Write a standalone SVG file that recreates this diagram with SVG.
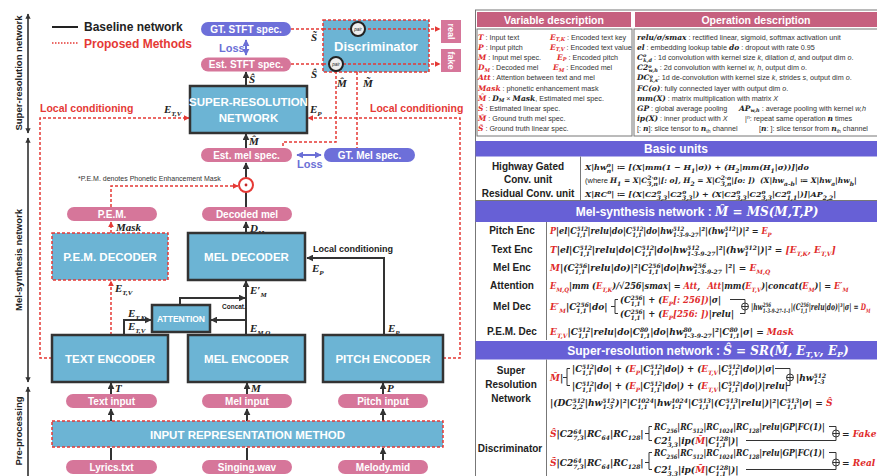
<svg xmlns="http://www.w3.org/2000/svg" width="877" height="476" viewBox="0 0 877 476">
<defs>
<marker id="ab" viewBox="0 0 10 10" refX="9" refY="5" markerWidth="3.5" markerHeight="3.5" orient="auto-start-reverse"><path d="M0,0L10,5L0,10z" fill="#333"/></marker>
<marker id="ar" viewBox="0 0 10 10" refX="9" refY="5" markerWidth="4" markerHeight="4" orient="auto-start-reverse"><path d="M0,0L10,5L0,10z" fill="#e53935"/></marker>
<marker id="ap" viewBox="0 0 10 10" refX="9" refY="5" markerWidth="3.5" markerHeight="3.5" orient="auto-start-reverse"><path d="M0,0L10,5L0,10z" fill="#6b6fd6"/></marker>
</defs>
<style>
text{font-family:"Liberation Sans",Arial,sans-serif}
.box{fill:#6cb4d4;stroke:#333;stroke-width:2.5}
.pbox{fill:#6cb4d4;stroke:#e53935;stroke-width:1.5;stroke-dasharray:3 2}
.pill{fill:#d6769a}
.gt{fill:#6d6fd9}
.bx{font-weight:bold;fill:#fff;text-anchor:middle;font-size:11.5px}
.pl{font-weight:bold;fill:#fff;text-anchor:middle;font-size:10px}
.k{stroke:#333;stroke-width:2;fill:none}
.rd{stroke:#e53935;stroke-width:1.5;fill:none;stroke-dasharray:3 2}
.pu{stroke:#6b6fd6;stroke-width:2;fill:none}
.v{font-family:"Liberation Serif",serif;font-style:italic;font-weight:bold;font-size:11px;fill:#222}
.vs{font-size:7px}
.ax{font-weight:bold;font-size:9.5px;fill:#222;text-anchor:middle}
.lg{font-weight:bold;font-size:12px}
.fm{font-family:"DejaVu Serif",serif;font-style:italic;font-weight:bold;font-size:9px;fill:#222}
.fb{font-size:8px}
.s{font-size:6px}
.d{font-size:7.2px;fill:#333}
.sy{font-family:"DejaVu Serif",serif;font-style:italic;font-weight:bold;font-size:7.5px;fill:#222}
.ss{font-size:5px}
.r{fill:#e02b2b}
.w{font-family:"Liberation Sans",sans-serif;font-style:normal;font-weight:normal}
.hd{font-weight:bold;fill:#fff;text-anchor:middle;font-size:10.5px}
.sh{font-weight:bold;fill:#fff;text-anchor:middle;font-size:12px}
.hf{font-family:"DejaVu Serif",serif;font-style:italic}
.lb{font-weight:bold;fill:#222;text-anchor:middle;font-size:10px}
.tl{stroke:#333;stroke-width:1;fill:none}
.bd{fill:none;stroke:#777;stroke-width:1}
</style>

<rect width="877" height="476" fill="#fff"/>

<g id="axis">
<line x1="28" y1="14" x2="28" y2="133" stroke="#222" stroke-width="1.5" marker-start="url(#ab)" marker-end="url(#ab)"/>
<text class="ax" transform="translate(21.5,73) rotate(-90)">Super-resolution network</text>
<line x1="28" y1="138" x2="28" y2="382" stroke="#222" stroke-width="1.5" marker-start="url(#ab)" marker-end="url(#ab)"/>
<text class="ax" transform="translate(21.5,260) rotate(-90)">Mel-synthesis network</text>
<line x1="28" y1="387" x2="28" y2="476" stroke="#222" stroke-width="1.5" marker-start="url(#ab)"/>
<text class="ax" transform="translate(21.5,431) rotate(-90)">Pre-processing</text>
</g>

<g id="legend">
<line x1="52" y1="27" x2="78" y2="27" stroke="#222" stroke-width="2"/>
<text class="lg" x="84" y="31" fill="#222">Baseline network</text>
<line x1="52" y1="43" x2="78" y2="43" stroke="#e53935" stroke-width="1.5" stroke-dasharray="1.5 1.5"/>
<text class="lg" x="84" y="47.5" fill="#e53935">Proposed Methods</text>
</g>

<g id="connectors">
<path class="k" d="M111,460V448M247,460V448M383,460V448" marker-end="url(#ab)"/>
<path class="k" d="M111,421V409" marker-end="url(#ab)"/>
<path class="k" d="M247,421V409" marker-end="url(#ab)"/>
<path class="k" d="M383,421V409" marker-end="url(#ab)"/>
<path class="k" d="M111,394V383" marker-end="url(#ab)"/>
<path class="k" d="M247,394V383" marker-end="url(#ab)"/>
<path class="k" d="M383,394V383" marker-end="url(#ab)"/>
<path class="k" d="M384,335V258H307" marker-end="url(#ab)"/>
<path class="k" d="M246,335V281" marker-end="url(#ab)"/>
<path class="k" d="M246,320H211" marker-end="url(#ab)"/>
<path class="k" d="M180,304V298H245" stroke-width="1.5" marker-end="url(#ab)"/>
<path class="k" d="M124,335V320H151" marker-end="url(#ab)"/>
<path class="k" d="M246,233V222" marker-end="url(#ab)"/>
<path class="k" d="M246,207V192"/>
<path class="k" d="M246,178V163" marker-end="url(#ab)"/>
<path class="k" d="M246,148V134" marker-end="url(#ab)"/>
<path class="k" d="M246,86V72" marker-end="url(#ab)"/>
<path class="rd" d="M111,335V281" marker-end="url(#ar)"/>
<path class="rd" d="M111,233V222" marker-end="url(#ar)"/>
<path class="rd" d="M111,207V186H238" marker-end="url(#ar)"/>
<path class="rd" d="M52,358H40V118H189" marker-end="url(#ar)"/>
<path class="rd" d="M443,358H460V118H308" marker-end="url(#ar)"/>
<path class="rd" d="M291,29H440" marker-end="url(#ar)"/>
<path class="rd" d="M291,64H440" marker-end="url(#ar)"/>
<path class="rd" d="M336,71V142H283V148"/>
<path class="rd" d="M357,72V148"/>
<path class="pu" d="M246,40V55" marker-start="url(#ap)" marker-end="url(#ap)"/>
<path class="pu" d="M297,155H321" marker-start="url(#ap)" marker-end="url(#ap)"/>
<text x="219" y="52" font-weight="bold" font-size="11" fill="#6b6fd6">Loss</text>
<text x="297" y="168" font-weight="bold" font-size="11" fill="#6b6fd6">Loss</text>
<text x="313" y="252" font-weight="bold" font-size="9" fill="#222">Local conditioning</text>
<text x="40" y="112" font-weight="bold" font-size="10.5" fill="#e53935">Local conditioning</text>
<text x="370" y="112" font-weight="bold" font-size="10.5" fill="#e53935">Local conditioning</text>
<text x="222" y="309" font-weight="bold" font-size="6.5" fill="#222">Concat.</text>
<text x="78" y="181" font-size="7" fill="#333">*P.E.M. denotes Phonetic Enhancement Mask</text>
<text class="v" x="249" y="83">S&#x302;</text>
<text class="v" x="249" y="145">M&#x302;</text>
<text class="v" x="164" y="113">E<tspan class="vs" dy="2.5">T,V</tspan></text>
<text class="v" x="310" y="113">E<tspan class="vs" dy="2.5">P</tspan></text>
<text class="v" x="311" y="41">S&#x303;</text>
<text class="v" x="311" y="78">S&#x302;</text>
<text class="v" x="337" y="87">M&#x302;</text>
<text class="v" x="363" y="87">M&#x303;</text>
<text class="v" x="250" y="232">D<tspan class="vs" dy="2.5">M</tspan></text>
<text class="v" x="116" y="231">Mask</text>
<text class="v" x="115" y="292">E<tspan class="vs" dy="2.5">T,V</tspan></text>
<text class="v" x="250" y="294">E′<tspan class="vs" dy="2.5">M</tspan></text>
<text class="v" x="312" y="272">E<tspan class="vs" dy="2.5">P</tspan></text>
<text class="v" x="128" y="317">E<tspan class="vs" dy="2.5">T,K</tspan></text>
<text class="v" x="128" y="330">E<tspan class="vs" dy="2.5">T,V</tspan></text>
<text class="v" x="250" y="332">E<tspan class="vs" dy="2.5">M,Q</tspan></text>
<text class="v" x="388" y="332">E<tspan class="vs" dy="2.5">P</tspan></text>
<text class="v" x="115" y="392">T</text>
<text class="v" x="251" y="392">M</text>
<text class="v" x="387" y="392">P</text>
</g>

<g id="gt-stft"><rect class="gt" x="201" y="22" width="90" height="14" rx="7"/><text class="pl" x="246" y="32.5">GT. STFT spec.</text></g>
<g id="est-stft"><rect class="pill" x="201" y="57.5" width="90" height="14" rx="7"/><text class="pl" x="246" y="68">Est. STFT spec.</text></g>
<g id="discriminator">
<rect class="pbox" x="323" y="20" width="106" height="52"/>
<text x="376" y="51" font-weight="bold" font-size="13" fill="#fff" text-anchor="middle">Discriminator</text>
<path class="rd" d="M323,29H429M323,64H429"/>
<circle cx="358" cy="29" r="7" fill="#eee" stroke="#222" stroke-width="2"/>
<text x="358" y="30.5" font-size="4.5" font-style="italic" text-anchor="middle" fill="#222">pair</text>
<circle cx="336" cy="64" r="7" fill="#eee" stroke="#222" stroke-width="2"/>
<text x="336" y="65.5" font-size="4.5" font-style="italic" text-anchor="middle" fill="#222">pair</text>
</g>
<g id="real"><rect class="pill" x="441" y="20" width="20" height="23"/><text transform="translate(448,31.5) rotate(90)" font-weight="bold" font-size="9" fill="#fff" text-anchor="middle">real</text></g>
<g id="fake"><rect class="pill" x="441" y="49" width="20" height="23"/><text transform="translate(448,60.5) rotate(90)" font-weight="bold" font-size="9" fill="#fff" text-anchor="middle">fake</text></g>
<g id="sr-network"><rect class="box" x="190" y="86" width="117" height="47"/><text class="bx" x="248.5" y="106" font-size="11">SUPER-RESOLUTION</text><text class="bx" x="248.5" y="122">NETWORK</text></g>
<g id="est-mel"><rect class="pill" x="201" y="148" width="91" height="14" rx="7"/><text class="pl" x="246.5" y="158.5">Est. mel spec.</text></g>
<g id="gt-mel"><rect class="gt" x="324" y="148" width="91" height="14" rx="7"/><text class="pl" x="369.5" y="158.5">GT. Mel spec.</text></g>
<g id="mask-mul"><circle cx="246" cy="185" r="7" fill="#fff" stroke="#e53935" stroke-width="2"/><circle cx="246" cy="185" r="1.4" fill="#c62828"/></g>
<g id="pem"><rect class="pill" x="67" y="207" width="90" height="14" rx="7"/><text class="pl" x="112" y="217.5">P.E.M.</text></g>
<g id="decoded-mel"><rect class="pill" x="202" y="207" width="90" height="14" rx="7"/><text class="pl" x="247" y="217.5">Decoded mel</text></g>
<g id="pem-decoder"><rect class="pbox" x="52" y="233" width="116" height="47"/><text class="bx" x="110" y="261">P.E.M. DECODER</text></g>
<g id="mel-decoder"><rect class="box" x="188" y="233" width="117" height="47"/><text class="bx" x="246.5" y="261">MEL DECODER</text></g>
<g id="attention"><rect class="box" x="152" y="305" width="58" height="27" stroke-width="2"/><text x="181" y="322" font-weight="bold" font-size="8.5" fill="#fff" text-anchor="middle">ATTENTION</text></g>
<g id="text-encoder"><rect class="box" x="52" y="335" width="116" height="47"/><text class="bx" x="110" y="363">TEXT ENCODER</text></g>
<g id="mel-encoder"><rect class="box" x="188" y="335" width="117" height="47"/><text class="bx" x="246.5" y="363">MEL ENCODER</text></g>
<g id="pitch-encoder"><rect class="box" x="323" y="335" width="120" height="47"/><text class="bx" x="383" y="363">PITCH ENCODER</text></g>
<g id="text-input"><rect class="pill" x="66" y="394" width="91" height="14" rx="7"/><text class="pl" x="111.5" y="404.5">Text input</text></g>
<g id="mel-input"><rect class="pill" x="202" y="394" width="90" height="14" rx="7"/><text class="pl" x="247" y="404.5">Mel input</text></g>
<g id="pitch-input"><rect class="pill" x="338" y="394" width="90" height="14" rx="7"/><text class="pl" x="383" y="404.5">Pitch input</text></g>
<g id="input-rep"><rect class="pbox" x="52" y="421" width="391" height="26"/><text class="bx" x="247.5" y="438.5">INPUT REPRESENTATION METHOD</text></g>
<g id="lyrics"><rect class="pill" x="66" y="460" width="91" height="14" rx="7"/><text class="pl" x="111.5" y="470.5">Lyrics.txt</text></g>
<g id="singing"><rect class="pill" x="202" y="460" width="90" height="14" rx="7"/><text class="pl" x="247" y="470.5">Singing.wav</text></g>
<g id="melody"><rect class="pill" x="338" y="460" width="90" height="14" rx="7"/><text class="pl" x="383" y="470.5">Melody.mid</text></g>

<g id="table">
<rect class="bd" x="475.5" y="10" width="403" height="468"/>
<rect x="477" y="12" width="154" height="15" fill="#c6607f"/>
<rect x="635" y="12" width="242" height="15" fill="#c6607f"/>
<text class="hd" x="554" y="23.5">Variable description</text>
<text class="hd" x="756" y="23.5">Operation description</text>
<rect class="bd" x="477" y="29" width="155" height="107"/>
<rect class="bd" x="634" y="29" width="245" height="107"/>

<text class="d" x="478" y="39.5"><tspan class="sy r">T</tspan> : Input text</text>
<text class="d" x="550" y="39.5"><tspan class="sy r">E</tspan><tspan class="sy r ss" dy="1.5">T,K</tspan><tspan dy="-1.5"> : Encoded text key</tspan></text>
<text class="d" x="478" y="49.7"><tspan class="sy r">P</tspan> : Input pitch</text>
<text class="d" x="550" y="49.7"><tspan class="sy r">E</tspan><tspan class="sy r ss" dy="1.5">T,V</tspan><tspan dy="-1.5"> : Encoded text value</tspan></text>
<text class="d" x="478" y="59.9"><tspan class="sy r">M</tspan> : Input mel spec.</text>
<text class="d" x="557" y="59.9"><tspan class="sy r">E</tspan><tspan class="sy r ss" dy="1.5">P</tspan><tspan dy="-1.5"> : Encoded pitch</tspan></text>
<text class="d" x="478" y="70.1"><tspan class="sy r">D</tspan><tspan class="sy r ss" dy="1.5">M</tspan><tspan dy="-1.5"> : Decoded mel</tspan></text>
<text class="d" x="553" y="70.1"><tspan class="sy r">E</tspan><tspan class="sy r ss" dy="1.5">M</tspan><tspan dy="-1.5"> : Encoded mel</tspan></text>
<text class="d" x="478" y="80.3"><tspan class="sy r">Att</tspan> : Attention between text and mel</text>
<text class="d" x="478" y="90.5"><tspan class="sy r">Mask</tspan> : phonetic enhancement mask</text>
<text class="d" x="478" y="100.7"><tspan class="sy r">M&#x302;</tspan> : <tspan class="sy">D</tspan><tspan class="sy ss" dy="1.5">M</tspan><tspan dy="-1.5"> × </tspan><tspan class="sy">Mask</tspan>, Estimated mel spec.</text>
<text class="d" x="478" y="110.9"><tspan class="sy r">S&#x302;</tspan> : Estimated linear spec.</text>
<text class="d" x="478" y="121.1"><tspan class="sy r">M&#x303;</tspan> : Ground truth mel spec.</text>
<text class="d" x="478" y="131.3"><tspan class="sy r">S&#x303;</tspan> : Ground truth linear spec.</text>

<text class="d" x="637" y="39.5"><tspan class="sy">relu/σ/smax</tspan> : rectified linear, sigmoid, softmax activation unit</text>
<text class="d" x="637" y="49.7"><tspan class="sy">el</tspan> : embedding lookup table</text>
<text class="d" x="729" y="49.7"><tspan class="sy">do</tspan> : dropout with rate 0.95</text>
<text class="d" x="637" y="59.9"><tspan class="sy">C</tspan><tspan class="sy ss" dy="-2.5">o</tspan><tspan class="sy ss" dx="-3" dy="4.5">k,d</tspan><tspan dy="-2"> : 1d convolution with kernel size <tspan font-style="italic">k</tspan>, dilation <tspan font-style="italic">d</tspan>, and output dim <tspan font-style="italic">o</tspan>.</tspan></text>
<text class="d" x="637" y="70.1"><tspan class="sy">C2</tspan><tspan class="sy ss" dy="-2.5">o</tspan><tspan class="sy ss" dx="-3" dy="4.5">w,h</tspan><tspan dy="-2"> : 2d convolution with kernel <tspan font-style="italic">w, h</tspan>, output dim <tspan font-style="italic">o</tspan>.</tspan></text>
<text class="d" x="637" y="80.3"><tspan class="sy">DC</tspan><tspan class="sy ss" dy="-2.5">o</tspan><tspan class="sy ss" dx="-3" dy="4.5">k,s</tspan><tspan dy="-2">: 1d de-convolution with kernel size <tspan font-style="italic">k</tspan>, strides <tspan font-style="italic">s</tspan>, output dim <tspan font-style="italic">o</tspan>.</tspan></text>
<text class="d" x="637" y="90.5"><tspan class="sy">FC(o)</tspan>: fully connected layer with output dim <tspan font-style="italic">o</tspan>.</text>
<text class="d" x="637" y="100.7"><tspan class="sy">mm(X)</tspan> : matrix multiplication with matrix <tspan font-style="italic">X</tspan></text>
<text class="d" x="637" y="110.9"><tspan class="sy">GP</tspan> : global average pooling</text>
<text class="d" x="739" y="110.9"><tspan class="sy">AP</tspan><tspan class="sy ss" dy="1.5">w,h</tspan><tspan dy="-1.5"> : average pooling with kernel <tspan font-style="italic">w,h</tspan></tspan></text>
<text class="d" x="637" y="121.1"><tspan class="sy">ip(X)</tspan> : inner product with <tspan font-style="italic">X</tspan></text>
<text class="d" x="745" y="121.1">|<tspan class="ss" dy="-2.5">n</tspan><tspan dy="2.5">: repeat same operation </tspan><tspan class="sy">n</tspan> times</text>
<text class="d" x="637" y="131.3">[: <tspan class="sy">n</tspan>]: slice tensor to <tspan class="sy">n</tspan><tspan class="ss" dy="1.5">th</tspan><tspan dy="-1.5"> channel</tspan></text>
<text class="d" x="759" y="131.3">[<tspan class="sy">n</tspan>: ]: slice tensor from <tspan class="sy">n</tspan><tspan class="ss" dy="1.5">th</tspan><tspan dy="-1.5"> channel</tspan></text>

<rect x="475.5" y="141" width="402" height="15.5" fill="#6760d6"/>
<text class="sh" x="676" y="153">Basic units</text>
<path class="bd" d="M475.5,200.5H877M580.5,156.5V200.5"/>
<text class="lb" x="528" y="170">Highway Gated</text>
<text class="lb" x="528" y="183">Conv. unit</text>
<text class="lb" x="528" y="197">Residual Conv. unit</text>
<text class="fm fb" x="585" y="170">X|hw<tspan class="s" dy="-3.5">o</tspan><tspan class="s" dx="-4.1" dy="6">n</tspan><tspan dy="-2.5">| ≔ [(X|mm(1 − H</tspan><tspan class="s" dy="2.5">1</tspan><tspan dy="-2.5">|σ)) + (H</tspan><tspan class="s" dy="2.5">2</tspan><tspan dy="-2.5">|mm(H</tspan><tspan class="s" dy="2.5">1</tspan><tspan dy="-2.5">|σ))]|do</tspan></text>
<text class="fm" x="585" y="183" style="font-size:7.5px"><tspan class="w">(where </tspan>H<tspan class="s" dy="2.5">1</tspan><tspan dy="-2.5"> = X|C</tspan><tspan class="s" dy="-3.5">2·o</tspan><tspan class="s" dx="-10.3" dy="6">3,n</tspan><tspan dy="-2.5">|[: o], H</tspan><tspan class="s" dy="2.5">2</tspan><tspan dy="-2.5"> = X|C</tspan><tspan class="s" dy="-3.5">2·o</tspan><tspan class="s" dx="-10.3" dy="6">3,n</tspan><tspan dy="-2.5">|[o: ])</tspan><tspan dx="5">(X|hw</tspan><tspan class="s" dy="2.5">a-b</tspan><tspan dy="-2.5">| ≔ X|hw</tspan><tspan class="s" dy="2.5">a</tspan><tspan dy="-2.5">|hw</tspan><tspan class="s" dy="2.5">b</tspan><tspan dy="-2.5">|</tspan></text>
<text class="fm fb" x="585" y="197">X|RC<tspan class="s" dy="-3.5">o</tspan><tspan dy="3.5">| ≔ [(X|C2</tspan><tspan class="s" dy="-3.5">o</tspan><tspan class="s" dx="-4.1" dy="6">3,3</tspan><tspan dy="-2.5">|C2</tspan><tspan class="s" dy="-3.5">o</tspan><tspan class="s" dx="-4.1" dy="6">3,3</tspan><tspan dy="-2.5">|) + (X|C2</tspan><tspan class="s" dy="-3.5">o</tspan><tspan class="s" dx="-4.1" dy="6">3,3</tspan><tspan dy="-2.5">|C2</tspan><tspan class="s" dy="-3.5">o</tspan><tspan class="s" dx="-4.1" dy="6">3,3</tspan><tspan dy="-2.5">|C2</tspan><tspan class="s" dy="-3.5">o</tspan><tspan class="s" dx="-4.1" dy="6">1,1</tspan><tspan dy="-2.5">|)]|AP</tspan><tspan class="s" dy="2.5">2,2</tspan><tspan dy="-2.5">|</tspan></text>

<rect x="475.5" y="201" width="402" height="21" fill="#6760d6"/>
<text class="sh" x="697" y="216">Mel-synthesis network : <tspan class="hf">M&#x302; = MS(M,T,P)</tspan></text>
<path class="bd" d="M546.5,222V340"/>
<text class="lb" x="512" y="234">Pitch Enc</text>
<text class="lb" x="512" y="253">Text Enc</text>
<text class="lb" x="512" y="271">Mel Enc</text>
<text class="lb" x="512" y="289">Attention</text>
<text class="lb" x="512" y="310">Mel Dec</text>
<text class="lb" x="512" y="335">P.E.M. Dec</text>

<text class="fm" transform="translate(550,234) scale(0.9,1)"><tspan class="r">P</tspan>|el|C<tspan class="s" dy="-3.5">512</tspan><tspan class="s" dx="-12.5" dy="6">1,1</tspan><tspan dx="1.8" dy="-2.5">|relu|do|C</tspan><tspan class="s" dy="-3.5">512</tspan><tspan class="s" dx="-12.5" dy="6">1,1</tspan><tspan dx="1.8" dy="-2.5">|do|hw</tspan><tspan class="s" dy="-3.5">512</tspan><tspan class="s" dx="-12.5" dy="6">1-3-9-27</tspan><tspan dy="-2.5">|²|(hw</tspan><tspan class="s" dy="-3.5">512</tspan><tspan class="s" dx="-12.5" dy="6">1</tspan><tspan dx="8.3" dy="-2.5">|)|² = </tspan><tspan class="r">E</tspan><tspan class="s r" dy="2.5">P</tspan></text>
<text class="fm" x="550" y="253"><tspan class="r">T</tspan>|el|C<tspan class="s" dy="-3.5">512</tspan><tspan class="s" dx="-12.5" dy="6">1,1</tspan><tspan dx="1.8" dy="-2.5">|relu|do|C</tspan><tspan class="s" dy="-3.5">512</tspan><tspan class="s" dx="-12.5" dy="6">1,1</tspan><tspan dx="1.8" dy="-2.5">|do|hw</tspan><tspan class="s" dy="-3.5">512</tspan><tspan class="s" dx="-12.5" dy="6">1-3-9-27</tspan><tspan dy="-2.5">|²|(hw</tspan><tspan class="s" dy="-3.5">512</tspan><tspan class="s" dx="-12.5" dy="6">1</tspan><tspan dx="8.3" dy="-2.5">|)|² = </tspan><tspan class="r">[E</tspan><tspan class="s r" dy="2.5">T,K</tspan><tspan class="r" dy="-2.5">, E</tspan><tspan class="s r" dy="2.5">T,V</tspan><tspan class="r" dy="-2.5">]</tspan></text>
<text class="fm" x="550" y="271"><tspan class="r">M</tspan>|(C<tspan class="s" dy="-3.5">256</tspan><tspan class="s" dx="-12.5" dy="6">1,1</tspan><tspan dx="1.8" dy="-2.5">|relu|do)|²|C</tspan><tspan class="s" dy="-3.5">256</tspan><tspan class="s" dx="-12.5" dy="6">1,1</tspan><tspan dx="1.8" dy="-2.5">|do|hw</tspan><tspan class="s" dy="-3.5">256</tspan><tspan class="s" dx="-12.5" dy="6">1-3-9-27</tspan><tspan dy="-2.5"> |²| = </tspan><tspan class="r">E</tspan><tspan class="s r" dy="2.5">M,Q</tspan></text>
<text class="fm" transform="translate(550,289) scale(0.91,1)"><tspan class="r">E</tspan><tspan class="s r" dy="2.5">M,Q</tspan><tspan dy="-2.5">|mm (</tspan><tspan class="r">E</tspan><tspan class="s r" dy="2.5">T,K</tspan><tspan dy="-2.5">)/√256|smax| = </tspan><tspan class="r">Att</tspan>,<tspan class="r" dx="8">Att</tspan>|mm(<tspan class="r">E</tspan><tspan class="s r" dy="2.5">T,V</tspan><tspan dy="-2.5">)|concat(</tspan><tspan class="r">E</tspan><tspan class="s r" dy="2.5">M</tspan><tspan dy="-2.5">)| = </tspan><tspan class="r">E′</tspan><tspan class="s r" dy="2.5">M</tspan></text>

<text class="fm" x="550" y="310"><tspan class="r">E′</tspan><tspan class="s r" dy="2.5">M</tspan><tspan dy="-2.5">|C</tspan><tspan class="s" dy="-3.5">256</tspan><tspan class="s" dx="-12.5" dy="6">1,1</tspan><tspan dx="1.8" dy="-2.5">|do|</tspan></text>
<path class="tl" d="M611,306.5H615M618,299.5H615V313.5H618"/>
<text class="fm" transform="translate(620,303) scale(0.94,1)">(C<tspan class="s" dy="-3.5">256</tspan><tspan class="s" dx="-12.5" dy="6">1,1</tspan><tspan dx="1.8" dy="-2.5">| + (</tspan><tspan class="r">E</tspan><tspan class="s r" dy="2.5">P</tspan><tspan class="r" dy="-2.5">[: 256])</tspan>|σ|</text>
<text class="fm" transform="translate(620,317) scale(0.94,1)">(C<tspan class="s" dy="-3.5">256</tspan><tspan class="s" dx="-12.5" dy="6">1,1</tspan><tspan dx="1.8" dy="-2.5">| + (</tspan><tspan class="r">E</tspan><tspan class="s r" dy="2.5">P</tspan><tspan class="r" dy="-2.5">[256: ])</tspan>|relu|</text>
<path class="tl" d="M730,299.5H745V303M740,313.5H745V310"/>
<circle cx="745" cy="306.5" r="3.5" fill="#fff" stroke="#333" stroke-width="1"/>
<path class="tl" d="M741.5,306.5H748.5M745,303V310"/>
<text class="fm" transform="translate(751,310) scale(0.67,1)">|hw<tspan class="s" dy="-3.5">256</tspan><tspan class="s" dx="-12.5" dy="6">1-3-9-27-1-1</tspan><tspan dy="-2.5">|(C</tspan><tspan class="s" dy="-3.5">256</tspan><tspan class="s" dx="-12.5" dy="6">1,1</tspan><tspan dx="1.8" dy="-2.5">|relu|do)|³|σ| = </tspan><tspan class="r">D</tspan><tspan class="s r" dy="2.5">M</tspan></text>

<text class="fm" x="550" y="335"><tspan class="r">E</tspan><tspan class="s r" dy="2.5">T,V</tspan><tspan dy="-2.5">|C</tspan><tspan class="s" dy="-3.5">512</tspan><tspan class="s" dx="-12.5" dy="6">1,1</tspan><tspan dx="1.8" dy="-2.5">|relu|do|C</tspan><tspan class="s" dy="-3.5">80</tspan><tspan class="s" dx="-8.4" dy="6">1,1</tspan><tspan dy="-2.5">|do|hw</tspan><tspan class="s" dy="-3.5">80</tspan><tspan class="s" dx="-8.4" dy="6">1-3-9-27</tspan><tspan dy="-2.5">|²|C</tspan><tspan class="s" dy="-3.5">80</tspan><tspan class="s" dx="-8.4" dy="6">1,1</tspan><tspan dy="-2.5">|σ| = </tspan><tspan class="r">Mask</tspan></text>

<rect x="475.5" y="341" width="402" height="18.5" fill="#6760d6"/>
<text class="sh" x="708" y="354.5">Super-resolution network : <tspan class="hf">S&#x302; = SR(M&#x302;, E<tspan font-size="8" dy="2">T,V</tspan><tspan dy="-2">, E</tspan><tspan font-size="8" dy="2">P</tspan><tspan dy="-2">)</tspan></tspan></text>
<path class="bd" d="M546.5,359.5V476"/>
<text class="lb" x="511" y="374">Super</text>
<text class="lb" x="511" y="388">Resolution</text>
<text class="lb" x="511" y="402">Network</text>
<text class="lb" x="510" y="452">Discriminator</text>

<text class="fm" x="550" y="381"><tspan class="r">M&#x302;</tspan>|</text>
<path class="tl" d="M563,377.5H567M570,368.5H567V385.5H570"/>
<text class="fm" transform="translate(572,372) scale(0.96,1)">|C<tspan class="s" dy="-3.5">512</tspan><tspan class="s" dx="-12.5" dy="6">1,1</tspan><tspan dx="1.8" dy="-2.5">|do| + (</tspan><tspan class="r">E</tspan><tspan class="s r" dy="2.5">P</tspan><tspan dy="-2.5">|C</tspan><tspan class="s" dy="-3.5">512</tspan><tspan class="s" dx="-12.5" dy="6">1,1</tspan><tspan dx="1.8" dy="-2.5">|do|) + (</tspan><tspan class="r">E</tspan><tspan class="s r" dy="2.5">T,V</tspan><tspan dy="-2.5">|C</tspan><tspan class="s" dy="-3.5">512</tspan><tspan class="s" dx="-12.5" dy="6">1,1</tspan><tspan dx="1.8" dy="-2.5">|do|)|σ|</tspan></text>
<text class="fm" transform="translate(572,389) scale(0.96,1)">|C<tspan class="s" dy="-3.5">512</tspan><tspan class="s" dx="-12.5" dy="6">1,1</tspan><tspan dx="1.8" dy="-2.5">|do| + (</tspan><tspan class="r">E</tspan><tspan class="s r" dy="2.5">P</tspan><tspan dy="-2.5">|C</tspan><tspan class="s" dy="-3.5">512</tspan><tspan class="s" dx="-12.5" dy="6">1,1</tspan><tspan dx="1.8" dy="-2.5">|do|) + (</tspan><tspan class="r">E</tspan><tspan class="s r" dy="2.5">T,V</tspan><tspan dy="-2.5">|C</tspan><tspan class="s" dy="-3.5">512</tspan><tspan class="s" dx="-12.5" dy="6">1,1</tspan><tspan dx="1.8" dy="-2.5">|do|)|relu|</tspan></text>
<path class="tl" d="M775,368.5H790V374M786,385.5H790V381"/>
<circle cx="790" cy="377.5" r="3.5" fill="#fff" stroke="#333" stroke-width="1"/>
<path class="tl" d="M786.5,377.5H793.5M790,374V381"/>
<text class="fm" x="796" y="381">|hw<tspan class="s" dy="-3.5">512</tspan><tspan class="s" dx="-12.5" dy="6">1-3</tspan></text>
<text class="fm" x="550" y="406">|(DC<tspan class="s" dy="-3.5">512</tspan><tspan class="s" dx="-12.5" dy="6">2,2</tspan><tspan dx="1.8" dy="-2.5">|hw</tspan><tspan class="s" dy="-3.5">512</tspan><tspan class="s" dx="-12.5" dy="6">1-3</tspan><tspan dx="2" dy="-2.5">)|²|C</tspan><tspan class="s" dy="-3.5">1024</tspan><tspan class="s" dx="-16.7" dy="6">1,1</tspan><tspan dx="6" dy="-2.5">|hw</tspan><tspan class="s" dy="-3.5">1024</tspan><tspan class="s" dx="-16.7" dy="6">1-1</tspan><tspan dx="6" dy="-2.5">|C</tspan><tspan class="s" dy="-3.5">513</tspan><tspan class="s" dx="-12.5" dy="6">1,1</tspan><tspan dx="1.8" dy="-2.5">|(C</tspan><tspan class="s" dy="-3.5">513</tspan><tspan class="s" dx="-12.5" dy="6">1,1</tspan><tspan dx="1.8" dy="-2.5">|relu|)|²|C</tspan><tspan class="s" dy="-3.5">513</tspan><tspan class="s" dx="-12.5" dy="6">1,1</tspan><tspan dx="1.8" dy="-2.5">|σ| = </tspan><tspan class="r">S&#x302;</tspan></text>

<text class="fm" x="550" y="437"><tspan class="r">S&#x302;</tspan>|C2<tspan class="s" dy="-3.5">64</tspan><tspan class="s" dx="-8.4" dy="6">7,3</tspan><tspan dy="-2.5">|RC</tspan><tspan class="s" dy="2.5">64</tspan><tspan dy="-2.5">|RC</tspan><tspan class="s" dy="2.5">128</tspan><tspan dy="-2.5">|</tspan></text>
<path class="tl" d="M645,433.5H649M652,426.5H649V440.5H652"/>
<text class="fm" transform="translate(654,430) scale(0.86,1)">RC<tspan class="s" dy="2.5">256</tspan><tspan dy="-2.5">|RC</tspan><tspan class="s" dy="2.5">512</tspan><tspan dy="-2.5">|RC</tspan><tspan class="s" dy="2.5">1024</tspan><tspan dy="-2.5">|RC</tspan><tspan class="s" dy="2.5">128</tspan><tspan dy="-2.5">|relu|GP|FC(1)|</tspan></text>
<text class="fm" x="654" y="444">C2<tspan class="s" dy="-3.5">1</tspan><tspan class="s" dx="-4.2" dy="6">3,3</tspan><tspan dy="-2.5">|ip(</tspan><tspan class="r">M&#x302;</tspan>|C<tspan class="s" dy="-3.5">128</tspan><tspan class="s" dx="-12.5" dy="6">1,1</tspan><tspan dx="1.8" dy="-2.5">|)|</tspan></text>
<path class="tl" d="M829,426.5H836V430M746,440.5H836V437"/>
<circle cx="836" cy="433.5" r="3.5" fill="#fff" stroke="#333" stroke-width="1"/>
<path class="tl" d="M832.5,433.5H839.5M836,430V437"/>
<text class="fm" x="842" y="437">= <tspan class="r">Fake</tspan></text>

<text class="fm" x="550" y="466"><tspan class="r">S&#x303;</tspan>|C2<tspan class="s" dy="-3.5">64</tspan><tspan class="s" dx="-8.4" dy="6">7,3</tspan><tspan dy="-2.5">|RC</tspan><tspan class="s" dy="2.5">64</tspan><tspan dy="-2.5">|RC</tspan><tspan class="s" dy="2.5">128</tspan><tspan dy="-2.5">|</tspan></text>
<path class="tl" d="M645,462.5H649M652,452.5H649V469.5H652"/>
<text class="fm" transform="translate(654,456) scale(0.86,1)">RC<tspan class="s" dy="2.5">256</tspan><tspan dy="-2.5">|RC</tspan><tspan class="s" dy="2.5">512</tspan><tspan dy="-2.5">|RC</tspan><tspan class="s" dy="2.5">1024</tspan><tspan dy="-2.5">|RC</tspan><tspan class="s" dy="2.5">128</tspan><tspan dy="-2.5">|relu|GP|FC(1)|</tspan></text>
<text class="fm" x="654" y="473">C2<tspan class="s" dy="-3.5">1</tspan><tspan class="s" dx="-4.2" dy="6">3,3</tspan><tspan dy="-2.5">|ip(</tspan><tspan class="r">M&#x303;</tspan>|C<tspan class="s" dy="-3.5">128</tspan><tspan class="s" dx="-12.5" dy="6">1,1</tspan><tspan dx="1.8" dy="-2.5">|)|</tspan></text>
<path class="tl" d="M829,452.5H836V459M746,469.5H836V466"/>
<circle cx="836" cy="462.5" r="3.5" fill="#fff" stroke="#333" stroke-width="1"/>
<path class="tl" d="M832.5,462.5H839.5M836,459V466"/>
<text class="fm" x="842" y="466">= <tspan class="r">Real</tspan></text>
</g>
</svg>
